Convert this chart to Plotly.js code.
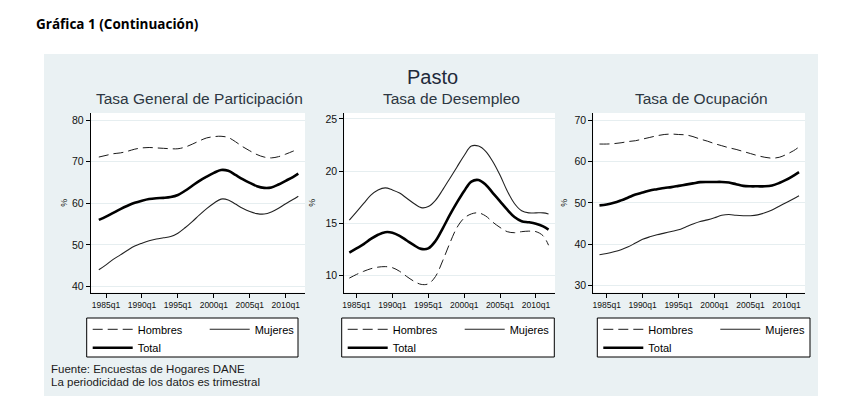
<!DOCTYPE html>
<html>
<head>
<meta charset="utf-8">
<script src="https://cdn.plot.ly/plotly-3.0.1.min.js"></script>
<style>
  body { margin: 0; background: #ffffff; }
  #frame { position: absolute; left: 44px; top: 54px; width: 774px; height: 342px; background: #eaf1f3; }
  #chart { position: absolute; left: 0; top: 0; width: 849px; height: 409px; }
</style>
</head>
<body>
<div id="frame"></div>
<div id="chart"></div>
<script>
// quarterly series read yearly (last point = 2011q4)
const years = [1984, 1985, 1986, 1987, 1988, 1989, 1990, 1991, 1992, 1993, 1994, 1995, 1996, 1997,
  1998, 1999, 2000, 2001, 2002, 2003, 2004, 2005, 2006, 2007, 2008, 2009, 2010, 2011, 2011.75];
const tickYears = [1985, 1990, 1995, 2000, 2005, 2010];
const tickLabels = ['1985q1', '1990q1', '1995q1', '2000q1', '2005q1', '2010q1'];

// Tasa General de Participación
const tgpHombres = [71.1, 71.5, 71.9, 72.1, 72.5, 73.0, 73.3, 73.4, 73.3, 73.2, 73.1, 73.1, 73.5, 74.2,
  75.0, 75.7, 76.0, 76.1, 75.8, 74.8, 73.6, 72.6, 71.7, 71.1, 70.9, 71.2, 71.8, 72.5, 73.0];
const tgpMujeres = [44.0, 45.2, 46.5, 47.6, 48.7, 49.7, 50.4, 51.0, 51.4, 51.7, 52.0, 52.8, 54.1, 55.6,
  57.2, 58.7, 60.0, 61.0, 60.8, 59.8, 58.8, 58.0, 57.5, 57.4, 57.9, 58.8, 59.9, 60.9, 61.7];
const tgpTotal = [56.0, 56.8, 57.7, 58.6, 59.4, 60.1, 60.6, 61.0, 61.2, 61.3, 61.5, 62.0, 63.0, 64.2,
  65.4, 66.4, 67.3, 68.0, 67.8, 66.8, 65.8, 64.9, 64.1, 63.7, 63.8, 64.5, 65.4, 66.3, 67.1];

// Tasa de Desempleo
const tdHombres = [9.75, 10.1, 10.4, 10.65, 10.8, 10.85, 10.75, 10.4, 9.9, 9.45, 9.15, 9.2, 9.9, 11.4,
  13.1, 14.6, 15.5, 15.9, 16.0, 15.7, 15.1, 14.6, 14.2, 14.1, 14.2, 14.25, 14.2, 13.8, 12.9];
const tdMujeres = [15.3, 16.1, 16.9, 17.7, 18.2, 18.4, 18.2, 17.9, 17.4, 16.9, 16.5, 16.6, 17.2, 18.2,
  19.3, 20.4, 21.5, 22.4, 22.4, 21.9, 20.9, 19.6, 18.1, 16.9, 16.2, 16.0, 16.0, 16.0, 15.9];
const tdTotal = [12.2, 12.6, 13.0, 13.5, 13.9, 14.15, 14.1, 13.8, 13.35, 12.9, 12.55, 12.6, 13.3, 14.5,
  15.8, 17.0, 18.1, 19.0, 19.15, 18.7, 17.9, 17.1, 16.3, 15.6, 15.2, 15.1, 14.95, 14.7, 14.4];

// Tasa de Ocupación
const toHombres = [64.2, 64.2, 64.3, 64.5, 64.8, 65.0, 65.4, 65.8, 66.2, 66.5, 66.6, 66.5, 66.4, 66.0,
  65.4, 64.9, 64.3, 63.8, 63.3, 62.9, 62.4, 61.9, 61.4, 61.0, 60.8, 61.0, 61.7, 62.6, 63.5];
const toMujeres = [37.5, 37.8, 38.2, 38.7, 39.4, 40.3, 41.2, 41.8, 42.3, 42.7, 43.1, 43.5, 44.2, 44.9,
  45.5, 45.9, 46.4, 47.0, 47.2, 47.0, 46.9, 46.9, 47.1, 47.6, 48.3, 49.2, 50.1, 51.0, 51.7];
const toTotal = [49.4, 49.6, 50.0, 50.6, 51.3, 52.0, 52.5, 53.0, 53.3, 53.6, 53.8, 54.1, 54.4, 54.7,
  55.0, 55.05, 55.05, 55.05, 54.9, 54.5, 54.1, 54.0, 54.0, 54.0, 54.2, 54.8, 55.6, 56.6, 57.4];

const W = 849, H = 409;
const px = v => v / W;
const py = v => 1 - v / H;
const FONT = 'Liberation Sans, Arial, sans-serif';

const panels = [
  {x: 'x', y: 'y', legA: 'legend', legB: 'legend2', title: 'Tasa General de Participación',
   series: [tgpHombres, tgpMujeres, tgpTotal], left: 90.7, right: 305, boxL: 86.7, boxR: 298,
   xrange: [1982.87, 2012.68], yrange: [38.55, 81.69], yticks: [40, 50, 60, 70, 80], standoff: 2},
  {x: 'x2', y: 'y2', legA: 'legend3', legB: 'legend4', title: 'Tasa de Desempleo',
   series: [tdHombres, tdMujeres, tdTotal], left: 344.3, right: 555, boxL: 341.7, boxR: 554.3,
   xrange: [1983.3, 2012.65], yrange: [8.37, 25.57], yticks: [10, 15, 20, 25], standoff: 7.5},
  {x: 'x3', y: 'y3', legA: 'legend5', legB: 'legend6', title: 'Tasa de Ocupación',
   series: [toHombres, toMujeres, toTotal], left: 593.3, right: 805, boxL: 597.3, boxR: 810,
   xrange: [1983.14, 2012.58], yrange: [28.37, 71.69], yticks: [30, 40, 50, 60, 70], standoff: 5}
];

const data = [];
const layout = {
  width: W,
  height: H,
  margin: {l: 0, r: 0, t: 0, b: 0},
  paper_bgcolor: 'rgba(0,0,0,0)',
  plot_bgcolor: '#ffffff',
  font: {family: FONT, color: '#000'},
  annotations: [],
  shapes: []
};

panels.forEach((p, i) => {
  const names = ['Hombres', 'Mujeres', 'Total'];
  const styles = [
    {width: 1, color: '#1a1a1a', dash: '10px,5px'},
    {width: 1.1, color: '#222222', dash: 'solid'},
    {width: 2.6, color: '#000000', dash: 'solid'}
  ];
  p.series.forEach((s, k) => {
    data.push({
      x: years,
      y: s,
      xaxis: p.x,
      yaxis: p.y,
      name: names[k],
      mode: 'lines',
      line: Object.assign({shape: 'spline', smoothing: 1}, styles[k]),
      legend: k < 2 ? p.legA : p.legB,
      hoverinfo: 'skip'
    });
  });

  const sfx = i === 0 ? '' : String(i + 1);
  layout['xaxis' + sfx] = {
    domain: [px(p.left), px(p.right)],
    anchor: p.y,
    range: p.xrange,
    tickvals: tickYears,
    ticktext: tickLabels,
    tickfont: {size: 8.5, family: FONT, color: '#111'},
    ticks: 'outside',
    ticklen: 4,
    tickcolor: '#000',
    showline: true,
    linecolor: '#000',
    linewidth: 1,
    showgrid: false,
    zeroline: false
  };
  layout['yaxis' + sfx] = {
    domain: [py(292.5), py(113)],
    anchor: p.x,
    range: p.yrange,
    tickvals: p.yticks,
    tickfont: {size: 10.5, family: FONT, color: '#111'},
    ticks: 'outside',
    ticklen: 4,
    tickcolor: '#000',
    showline: true,
    linecolor: '#000',
    linewidth: 1,
    gridcolor: '#e6eef0',
    gridwidth: 1,
    zeroline: false,
    title: {text: '%', font: {size: 9, family: FONT, color: '#111'}, standoff: p.standoff}
  };

  const legBase = {
    orientation: 'h',
    xanchor: 'left',
    yanchor: 'middle',
    x: px(p.boxL + 1),
    bgcolor: 'rgba(0,0,0,0)',
    borderwidth: 0,
    itemwidth: 40,
    font: {size: 11, family: FONT, color: '#000'},
    traceorder: 'normal'
  };
  layout[p.legA] = Object.assign({}, legBase, {y: py(329.3), entrywidth: 62});
  layout[p.legB] = Object.assign({}, legBase, {y: py(347.7)});

  layout.shapes.push({
    type: 'rect', xref: 'paper', yref: 'paper',
    x0: px(p.boxL), x1: px(p.boxR), y0: py(357), y1: py(318),
    fillcolor: '#ffffff', line: {color: '#000', width: 1}, layer: 'below'
  });

  layout.annotations.push({
    text: p.title, xref: p.x + ' domain', yref: 'paper', x: 0.5, y: py(98),
    xanchor: 'center', yanchor: 'middle', xshift: 2, showarrow: false,
    font: {size: 15.5, family: FONT, color: '#2d3742'}
  });
});

layout.annotations.push(
  {text: '<b>Gráfica 1 (Continuación)</b>', xref: 'paper', yref: 'paper', x: px(34), y: py(24),
   xanchor: 'left', yanchor: 'middle', showarrow: false,
   font: {size: 13.5, family: 'Open Sans, sans-serif', color: '#000'}},
  {text: 'Pasto', xref: 'paper', yref: 'paper', x: px(432.5), y: py(77),
   xanchor: 'center', yanchor: 'middle', showarrow: false, font: {size: 20, family: FONT, color: '#1f2a3a'}},
  {text: 'Fuente: Encuestas de Hogares DANE', xref: 'paper', yref: 'paper', x: px(49), y: py(369),
   xanchor: 'left', yanchor: 'middle', showarrow: false, font: {size: 11.5, family: FONT, color: '#1a1a1a'}},
  {text: 'La periodicidad de los datos es trimestral', xref: 'paper', yref: 'paper', x: px(49), y: py(382),
   xanchor: 'left', yanchor: 'middle', showarrow: false, font: {size: 11.5, family: FONT, color: '#1a1a1a'}}
);

Plotly.newPlot('chart', data, layout, {displayModeBar: false, staticPlot: true});
</script>
</body>
</html>
